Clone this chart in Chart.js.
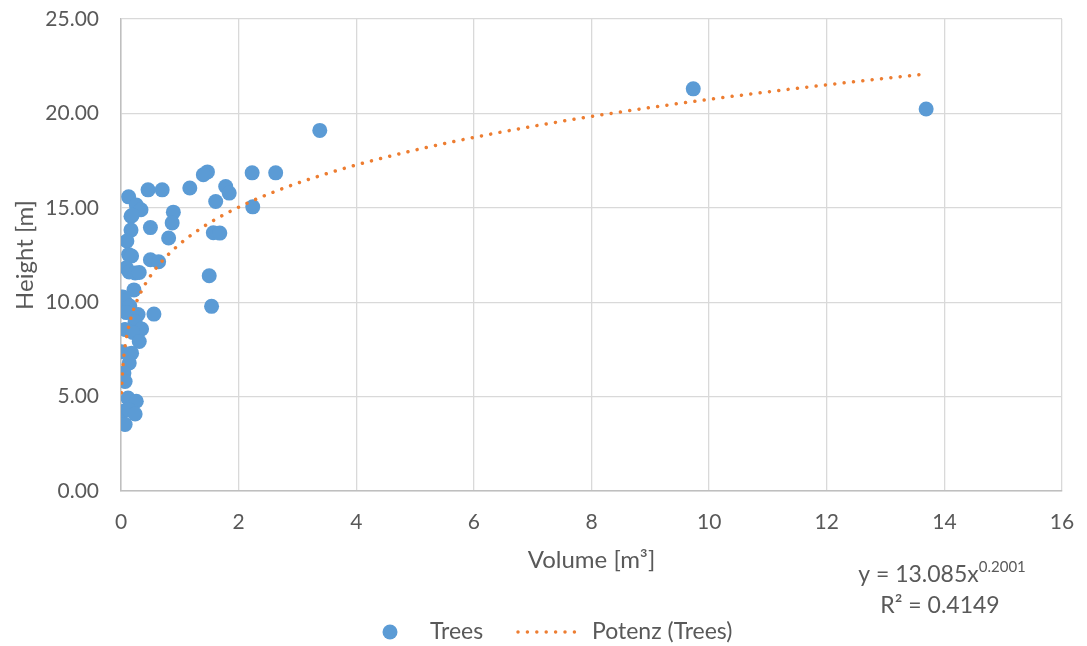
<!DOCTYPE html>
<html>
<head>
<meta charset="utf-8">
<script src="https://cdn.jsdelivr.net/npm/chart.js@4/dist/chart.umd.min.js"></script>
<style>
  html, body { margin: 0; padding: 0; background: #ffffff; }
  #wrap { width: 1087px; height: 646px; position: relative; }
</style>
</head>
<body>
<div id="wrap"><canvas id="c" width="1087" height="646"></canvas></div>
<script>
// Tree measurements: stem volume [m³] and height [m]
const volume = [
  9.73, 13.69, 3.38, 2.63, 2.23, 2.24, 1.78, 1.84, 1.47, 1.40,
  1.17, 0.70, 0.46, 1.61, 1.57, 1.68, 1.50, 1.54, 0.89, 0.87,
  0.81, 0.50, 0.50, 0.64, 0.56, 0.13, 0.26, 0.34, 0.17, 0.19,
  0.17, 0.10, 0.13, 0.18, 0.09, 0.14, 0.24, 0.31, 0.22, 0.03,
  0.07, 0.15, 0.09, 0.29, 0.24, 0.07, 0.35, 0.20, 0.31, 0.01,
  0.18, 0.14, 0.05, 0.07, 0.12, 0.26, 0.04, 0.13, 0.24, 0.07
];
const height = [
  21.30, 20.23, 19.10, 16.85, 16.85, 15.05, 16.13, 15.78, 16.90, 16.75,
  16.05, 15.95, 15.95, 15.33, 13.68, 13.66, 11.40, 9.78, 14.77, 14.20,
  13.40, 13.95, 12.25, 12.14, 9.37, 15.58, 15.15, 14.90, 14.55, 14.60,
  13.82, 13.24, 12.52, 12.45, 11.82, 11.60, 11.55, 11.57, 10.65, 10.28,
  10.05, 9.80, 9.45, 9.35, 8.97, 8.55, 8.58, 8.40, 7.92, 7.38,
  7.30, 6.78, 6.25, 5.80, 4.92, 4.75, 4.22, 4.30, 4.08, 3.52
];

// Axis ranges and tick steps
const xTicks = [0, 2, 4, 6, 8, 10, 12, 14, 16];
const yTicks = [0, 5, 10, 15, 20, 25];

// Power trendline  y = a · x^b  as reported by the fit
const trendA = 13.085;
const trendB = 0.2001;
const trendR2 = 0.4149;

const seriesLabel = 'Trees';
const trendLabel = 'Potenz (Trees)';

const BLUE = '#5B9BD5';
const ORANGE = '#ED7D31';
const TEXT = '#595959';
const FONT = 'Lato, "Open Sans", sans-serif';

const points = volume.map((v, i) => ({ x: v, y: height[i] }));

// Trendline spans the observed volume range
const xMin = Math.min(...volume);
const xMax = Math.max(...volume);
const trendPoints = [];
const STEPS = 400;
for (let i = 0; i <= STEPS; i++) {
  const t = i / STEPS;
  const x = xMin + (xMax - xMin) * t * t * t;
  trendPoints.push({ x, y: trendA * Math.pow(x, trendB) });
}

// Legend and regression label drawn below the plot
const annotations = {
  id: 'annotations',
  afterDraw(chart) {
    const ctx = chart.ctx;
    ctx.save();
    ctx.textBaseline = 'middle';
    ctx.fillStyle = TEXT;

    // regression equation
    const mainFont = '23px ' + FONT;
    const supFont = '15px ' + FONT;
    const eqMain = 'y = ' + trendA.toFixed(3) + 'x';
    const eqSup = trendB.toFixed(4);
    ctx.font = mainFont;
    const wMain = ctx.measureText(eqMain).width;
    ctx.font = supFont;
    const wSup = ctx.measureText(eqSup).width;
    const eqCx = 942, eqY = 575;
    const x0 = eqCx - (wMain + wSup) / 2;
    ctx.font = mainFont;
    ctx.textAlign = 'left';
    ctx.fillText(eqMain, x0, eqY);
    ctx.font = supFont;
    ctx.fillText(eqSup, x0 + wMain, eqY - 8);

    ctx.font = mainFont;
    ctx.textAlign = 'center';
    ctx.fillText('R² = ' + trendR2.toFixed(4), 940, 606);

    // legend
    const ly = 632;
    ctx.beginPath();
    ctx.arc(390, ly, 7.5, 0, Math.PI * 2);
    ctx.fillStyle = BLUE;
    ctx.fill();

    ctx.fillStyle = TEXT;
    ctx.textAlign = 'left';
    ctx.font = mainFont;
    ctx.fillText(seriesLabel, 430, ly);

    ctx.beginPath();
    ctx.strokeStyle = ORANGE;
    ctx.lineWidth = 3.5;
    ctx.lineCap = 'round';
    ctx.setLineDash([0.001, 9.4]);
    ctx.moveTo(518, ly);
    ctx.lineTo(580, ly);
    ctx.stroke();
    ctx.setLineDash([]);

    ctx.fillText(trendLabel, 592, ly);
    ctx.restore();
  }
};

new Chart(document.getElementById('c'), {
  type: 'scatter',
  data: {
    datasets: [
      {
        label: trendLabel,
        data: trendPoints,
        showLine: true,
        borderColor: ORANGE,
        borderWidth: 3.5,
        borderDash: [0.001, 9.4],
        borderCapStyle: 'round',
        pointRadius: 0,
        pointHoverRadius: 0,
        tension: 0,
        order: 0
      },
      {
        label: seriesLabel,
        data: points,
        backgroundColor: BLUE,
        borderWidth: 0,
        pointRadius: 7.5,
        pointHoverRadius: 7.5,
        order: 1
      }
    ]
  },
  options: {
    responsive: false,
    animation: false,
    devicePixelRatio: 1,
    layout: { padding: { left: 0, right: 25, top: 19, bottom: 65 } },
    plugins: { legend: { display: false }, tooltip: { enabled: false } },
    scales: {
      x: {
        type: 'linear',
        min: xTicks[0],
        max: xTicks[xTicks.length - 1],
        afterBuildTicks(scale) { scale.ticks = xTicks.map(v => ({ value: v })); },
        afterFit(scale) {
          scale.height = 90;
          scale.paddingLeft = 0;
          scale.paddingRight = 0;
        },
        grid: { color: '#D9D9D9', lineWidth: 1.3, drawTicks: false },
        border: { color: '#BFBFBF', width: 1.5 },
        ticks: { color: TEXT, font: { family: FONT, size: 21 }, padding: 19, maxRotation: 0 },
        title: { display: true, text: 'Volume [m³]', color: TEXT, font: { family: FONT, size: 24 }, padding: { top: 0, bottom: 6 } }
      },
      y: {
        type: 'linear',
        min: yTicks[0],
        max: yTicks[yTicks.length - 1],
        afterBuildTicks(scale) { scale.ticks = yTicks.map(v => ({ value: v })); },
        afterFit(scale) {
          scale.width = 121;
          scale.paddingTop = 0;
          scale.paddingBottom = 0;
        },
        grid: { color: '#D9D9D9', lineWidth: 1.3, drawTicks: false },
        border: { color: '#BFBFBF', width: 1.5 },
        ticks: { color: TEXT, font: { family: FONT, size: 21 }, padding: 22, callback: v => Number(v).toFixed(2) },
        title: { display: true, text: 'Height [m]', color: TEXT, font: { family: FONT, size: 24 }, padding: { top: 11, bottom: 0 } }
      }
    }
  },
  plugins: [annotations]
});
</script>
</body>
</html>
